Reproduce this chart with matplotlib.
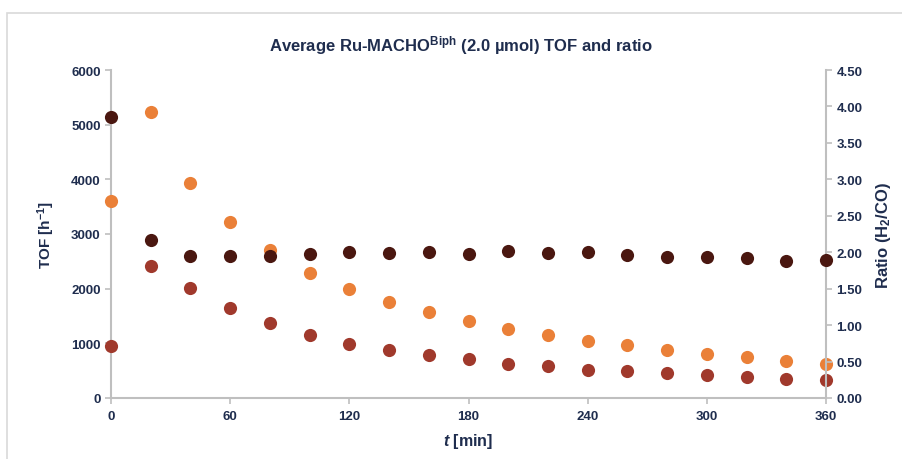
import matplotlib.pyplot as plt
from matplotlib.patches import Rectangle
from matplotlib.ticker import FormatStrFormatter

plt.rcParams['font.family'] = ['Liberation Sans', 'DejaVu Sans']
plt.rcParams['mathtext.fontset'] = 'custom'
plt.rcParams['mathtext.rm'] = 'Liberation Sans'
plt.rcParams['mathtext.it'] = 'Liberation Sans:italic'
plt.rcParams['mathtext.bf'] = 'Liberation Sans:bold'
plt.rcParams['mathtext.bfit'] = 'Liberation Sans:italic:bold'

# time points (min)
t = [0, 20, 40, 60, 80, 100, 120, 140, 160, 180,
     200, 220, 240, 260, 280, 300, 320, 340, 360]

# TOF H2 (orange), TOF CO (red), ratio H2/CO (dark, right axis)
tof_h2 = [3610, 5237, 3933, 3214, 2701, 2292, 1988, 1765, 1567, 1408,
          1268, 1158, 1048, 969, 884, 810, 744, 677, 628]
tof_co = [945, 2409, 2006, 1640, 1372, 1159, 988, 884, 780, 720,
          628, 579, 518, 488, 457, 415, 384, 353, 324]
ratio = [3.85, 2.17, 1.95, 1.95, 1.95, 1.97, 2.00, 1.99, 2.00, 1.97,
         2.01, 1.99, 2.00, 1.96, 1.94, 1.94, 1.92, 1.88, 1.90]

navy = '#1F2D4E'
grey = '#BFBFBF'

fig = plt.figure(figsize=(9.03, 4.60), dpi=100)
fig.patches.append(Rectangle((7/903, -0.1), 1.2, 446/460 + 0.1,
                             transform=fig.transFigure, fill=False,
                             edgecolor='#D9D9D9', linewidth=1.2))
ax = fig.add_axes([111/903, 61/460, 715/903, 328/460])
ax2 = ax.twinx()

ax.scatter(t, tof_h2, s=90, color='#EA8038', zorder=3, clip_on=False, linewidths=0)
ax.scatter(t, tof_co, s=90, color='#A0392C', zorder=3, clip_on=False, linewidths=0)
ax2.scatter(t, ratio, s=90, color='#4A1710', zorder=3, clip_on=False, linewidths=0)

ax.set_xlim(0, 360)
ax.set_ylim(0, 6000)
ax2.set_ylim(0, 4.5)
ax.set_xticks(range(0, 361, 60))
ax.set_yticks(range(0, 6001, 1000))
ax2.set_yticks([i * 0.5 for i in range(10)])
ax2.yaxis.set_major_formatter(FormatStrFormatter('%.2f'))

for a in (ax, ax2):
    a.spines['top'].set_visible(False)
    for s in ('left', 'right', 'bottom'):
        a.spines[s].set_color(grey)
        a.spines[s].set_linewidth(1.5)
    a.tick_params(colors=grey, length=4, width=1.2, labelcolor=navy, labelsize=9.5)
    for lab in a.get_xticklabels() + a.get_yticklabels():
        lab.set_fontweight('bold')
ax.spines['right'].set_visible(False)
ax2.spines['left'].set_visible(False)
ax2.spines['bottom'].set_visible(False)
ax.tick_params(axis='x', pad=5)

ax.set_xlabel(r'$\mathbfit{t}$ [min]', fontsize=11.5, fontweight='bold', color=navy, labelpad=6)
ax.set_ylabel(r'TOF [h$^{\mathbf{-1}}$]', fontsize=11, fontweight='bold', color=navy, labelpad=10)
ax2.set_ylabel(r'Ratio (H$_{\mathbf{2}}$/CO)', fontsize=12, fontweight='bold', color=navy, labelpad=8)
fig.text(0.51, 0.902, r'Average Ru-MACHO$^{\mathbf{Biph}}$ (2.0 µmol) TOF and ratio',
         ha='center', va='center', fontsize=12, fontweight='bold', color=navy)

fig.savefig('out.png', dpi=100)
